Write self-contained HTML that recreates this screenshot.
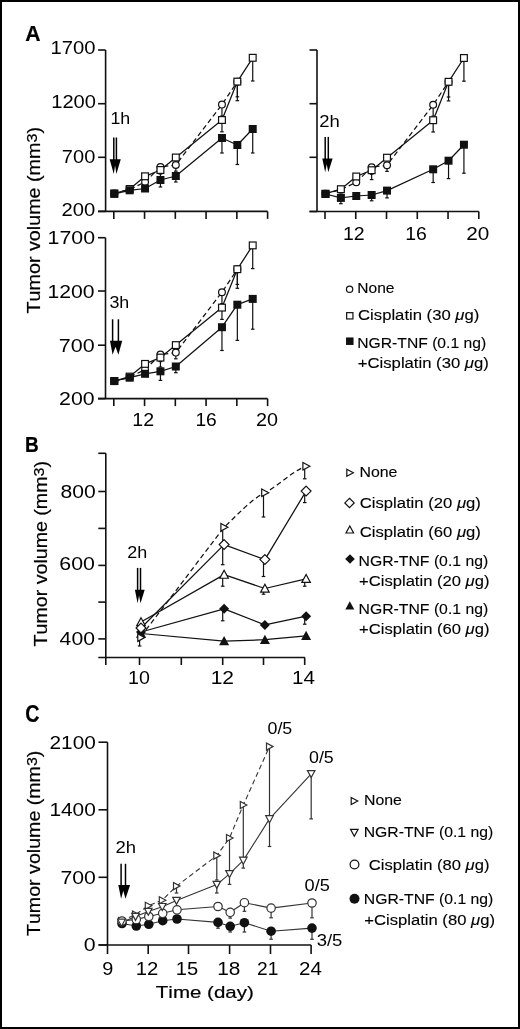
<!DOCTYPE html>
<html><head><meta charset="utf-8"><style>
html,body{margin:0;padding:0;background:#fff;}
svg{display:block;will-change:transform;}
text{font-family:"Liberation Sans", sans-serif;fill:#000;font-kerning:none;}
.sk{stroke:#000;stroke-width:0.12px;}
.sk2{stroke:#000;stroke-width:0.2px;}
</style></head><body>
<svg width="520" height="1029" viewBox="0 0 520 1029">
<rect width="520" height="1029" fill="#fff"/>
<rect x="1" y="1" width="518" height="1027" fill="none" stroke="#000" stroke-width="2"/>
<text class="sk2" x="25.27" y="40.80" font-size="22.00" font-weight="bold" textLength="15.29" lengthAdjust="spacingAndGlyphs">A</text>
<line x1="105.6" y1="50" x2="105.6" y2="211.4" stroke="#111" stroke-width="1.6" fill="none" stroke-linecap="butt"/>
<line x1="98.1" y1="211.4" x2="267.6" y2="211.4" stroke="#111" stroke-width="1.6" fill="none" stroke-linecap="butt"/>
<line x1="98.1" y1="50" x2="105.6" y2="50" stroke="#111" stroke-width="1.6" fill="none" stroke-linecap="butt"/>
<line x1="98.1" y1="103.7" x2="105.6" y2="103.7" stroke="#111" stroke-width="1.6" fill="none" stroke-linecap="butt"/>
<line x1="98.1" y1="157.3" x2="105.6" y2="157.3" stroke="#111" stroke-width="1.6" fill="none" stroke-linecap="butt"/>
<line x1="98.1" y1="211.4" x2="105.6" y2="211.4" stroke="#111" stroke-width="1.6" fill="none" stroke-linecap="butt"/>
<line x1="113.8" y1="211.4" x2="113.8" y2="218.9" stroke="#111" stroke-width="1.6" fill="none" stroke-linecap="butt"/>
<line x1="144.56" y1="211.4" x2="144.56" y2="218.9" stroke="#111" stroke-width="1.6" fill="none" stroke-linecap="butt"/>
<line x1="175.32" y1="211.4" x2="175.32" y2="218.9" stroke="#111" stroke-width="1.6" fill="none" stroke-linecap="butt"/>
<line x1="206.07999999999998" y1="211.4" x2="206.07999999999998" y2="218.9" stroke="#111" stroke-width="1.6" fill="none" stroke-linecap="butt"/>
<line x1="236.84" y1="211.4" x2="236.84" y2="218.9" stroke="#111" stroke-width="1.6" fill="none" stroke-linecap="butt"/>
<line x1="267.6" y1="211.4" x2="267.6" y2="218.9" stroke="#111" stroke-width="1.6" fill="none" stroke-linecap="butt"/>
<line x1="317" y1="50" x2="317" y2="211.5" stroke="#111" stroke-width="1.6" fill="none" stroke-linecap="butt"/>
<line x1="309.5" y1="211.5" x2="478.8" y2="211.5" stroke="#111" stroke-width="1.6" fill="none" stroke-linecap="butt"/>
<line x1="309.5" y1="50" x2="317" y2="50" stroke="#111" stroke-width="1.6" fill="none" stroke-linecap="butt"/>
<line x1="309.5" y1="103.7" x2="317" y2="103.7" stroke="#111" stroke-width="1.6" fill="none" stroke-linecap="butt"/>
<line x1="309.5" y1="157.3" x2="317" y2="157.3" stroke="#111" stroke-width="1.6" fill="none" stroke-linecap="butt"/>
<line x1="309.5" y1="211.5" x2="317" y2="211.5" stroke="#111" stroke-width="1.6" fill="none" stroke-linecap="butt"/>
<line x1="325.0" y1="211.5" x2="325.0" y2="219.0" stroke="#111" stroke-width="1.6" fill="none" stroke-linecap="butt"/>
<line x1="355.76" y1="211.5" x2="355.76" y2="219.0" stroke="#111" stroke-width="1.6" fill="none" stroke-linecap="butt"/>
<line x1="386.52" y1="211.5" x2="386.52" y2="219.0" stroke="#111" stroke-width="1.6" fill="none" stroke-linecap="butt"/>
<line x1="417.28" y1="211.5" x2="417.28" y2="219.0" stroke="#111" stroke-width="1.6" fill="none" stroke-linecap="butt"/>
<line x1="448.04" y1="211.5" x2="448.04" y2="219.0" stroke="#111" stroke-width="1.6" fill="none" stroke-linecap="butt"/>
<line x1="478.8" y1="211.5" x2="478.8" y2="219.0" stroke="#111" stroke-width="1.6" fill="none" stroke-linecap="butt"/>
<line x1="105.5" y1="237.7" x2="105.5" y2="398.6" stroke="#111" stroke-width="1.6" fill="none" stroke-linecap="butt"/>
<line x1="98.0" y1="398.6" x2="267.6" y2="398.6" stroke="#111" stroke-width="1.6" fill="none" stroke-linecap="butt"/>
<line x1="98.0" y1="237.7" x2="105.5" y2="237.7" stroke="#111" stroke-width="1.6" fill="none" stroke-linecap="butt"/>
<line x1="98.0" y1="291.0" x2="105.5" y2="291.0" stroke="#111" stroke-width="1.6" fill="none" stroke-linecap="butt"/>
<line x1="98.0" y1="345.2" x2="105.5" y2="345.2" stroke="#111" stroke-width="1.6" fill="none" stroke-linecap="butt"/>
<line x1="98.0" y1="398.6" x2="105.5" y2="398.6" stroke="#111" stroke-width="1.6" fill="none" stroke-linecap="butt"/>
<line x1="113.8" y1="398.6" x2="113.8" y2="406.1" stroke="#111" stroke-width="1.6" fill="none" stroke-linecap="butt"/>
<line x1="144.56" y1="398.6" x2="144.56" y2="406.1" stroke="#111" stroke-width="1.6" fill="none" stroke-linecap="butt"/>
<line x1="175.32" y1="398.6" x2="175.32" y2="406.1" stroke="#111" stroke-width="1.6" fill="none" stroke-linecap="butt"/>
<line x1="206.07999999999998" y1="398.6" x2="206.07999999999998" y2="406.1" stroke="#111" stroke-width="1.6" fill="none" stroke-linecap="butt"/>
<line x1="236.84" y1="398.6" x2="236.84" y2="406.1" stroke="#111" stroke-width="1.6" fill="none" stroke-linecap="butt"/>
<line x1="267.6" y1="398.6" x2="267.6" y2="406.1" stroke="#111" stroke-width="1.6" fill="none" stroke-linecap="butt"/>
<text x="50.56" y="54.10" font-size="17.60" textLength="45.03" lengthAdjust="spacingAndGlyphs">1700</text>
<text x="51.27" y="107.50" font-size="17.60" textLength="44.72" lengthAdjust="spacingAndGlyphs">1200</text>
<text x="61.87" y="163.10" font-size="17.60" textLength="33.41" lengthAdjust="spacingAndGlyphs">700</text>
<text x="61.58" y="216.20" font-size="17.60" textLength="33.71" lengthAdjust="spacingAndGlyphs">200</text>
<text x="47.58" y="244.00" font-size="17.60" textLength="47.46" lengthAdjust="spacingAndGlyphs">1700</text>
<text x="47.59" y="297.70" font-size="17.60" textLength="47.04" lengthAdjust="spacingAndGlyphs">1200</text>
<text x="58.80" y="351.50" font-size="17.60" textLength="35.84" lengthAdjust="spacingAndGlyphs">700</text>
<text x="59.13" y="404.70" font-size="17.60" textLength="35.50" lengthAdjust="spacingAndGlyphs">200</text>
<text x="342.92" y="239.80" font-size="17.60" textLength="21.66" lengthAdjust="spacingAndGlyphs">12</text>
<text x="405.22" y="239.80" font-size="17.60" textLength="21.64" lengthAdjust="spacingAndGlyphs">16</text>
<text x="466.26" y="239.80" font-size="17.60" textLength="23.05" lengthAdjust="spacingAndGlyphs">20</text>
<text x="132.31" y="425.80" font-size="17.60" textLength="21.78" lengthAdjust="spacingAndGlyphs">12</text>
<text x="195.43" y="425.80" font-size="17.60" textLength="21.41" lengthAdjust="spacingAndGlyphs">16</text>
<text x="255.91" y="425.80" font-size="17.60" textLength="21.96" lengthAdjust="spacingAndGlyphs">20</text>
<text x="110.44" y="124.20" font-size="16.00" textLength="19.81" lengthAdjust="spacingAndGlyphs">1h</text>
<text x="319.17" y="127.20" font-size="16.00" textLength="20.53" lengthAdjust="spacingAndGlyphs">2h</text>
<text x="109.42" y="307.60" font-size="16.00" textLength="19.84" lengthAdjust="spacingAndGlyphs">3h</text>
<g transform="translate(39.80,313.00) rotate(-90)"><text class="sk2" x="-0.44" y="0" font-size="18.20" textLength="186.47" lengthAdjust="spacingAndGlyphs">Tumor volume (mm<tspan font-size="14.92" dy="-3.09">3</tspan><tspan dy="3.09">)</tspan></text></g>
<text class="sk" x="357.32" y="292.50" font-size="15.40" textLength="37.17" lengthAdjust="spacingAndGlyphs">None</text>
<text class="sk" x="358.05" y="319.80" font-size="15.40" textLength="121.28" lengthAdjust="spacingAndGlyphs">Cisplatin (30 <tspan font-style="italic">μ</tspan>g)</text>
<text class="sk" x="357.31" y="347.70" font-size="15.40" textLength="128.86" lengthAdjust="spacingAndGlyphs">NGR-TNF (0.1 ng)</text>
<text class="sk" x="357.79" y="367.60" font-size="15.40" textLength="131.05" lengthAdjust="spacingAndGlyphs">+Cisplatin (30 <tspan font-style="italic">μ</tspan>g)</text>
<text class="sk2" x="24.93" y="451.60" font-size="21.60" font-weight="bold" textLength="13.74" lengthAdjust="spacingAndGlyphs">B</text>
<line x1="105.8" y1="453.3" x2="105.8" y2="657.5" stroke="#111" stroke-width="1.6" fill="none" stroke-linecap="butt"/>
<line x1="98.3" y1="657.5" x2="304.9" y2="657.5" stroke="#111" stroke-width="1.6" fill="none" stroke-linecap="butt"/>
<line x1="98.3" y1="453.3" x2="105.8" y2="453.3" stroke="#111" stroke-width="1.6" fill="none" stroke-linecap="butt"/>
<line x1="98.3" y1="491.5" x2="105.8" y2="491.5" stroke="#111" stroke-width="1.6" fill="none" stroke-linecap="butt"/>
<line x1="98.3" y1="528.4" x2="105.8" y2="528.4" stroke="#111" stroke-width="1.6" fill="none" stroke-linecap="butt"/>
<line x1="98.3" y1="565.4" x2="105.8" y2="565.4" stroke="#111" stroke-width="1.6" fill="none" stroke-linecap="butt"/>
<line x1="98.3" y1="602.1" x2="105.8" y2="602.1" stroke="#111" stroke-width="1.6" fill="none" stroke-linecap="butt"/>
<line x1="98.3" y1="638.9" x2="105.8" y2="638.9" stroke="#111" stroke-width="1.6" fill="none" stroke-linecap="butt"/>
<line x1="105.8" y1="657.5" x2="105.8" y2="665.0" stroke="#111" stroke-width="1.6" fill="none" stroke-linecap="butt"/>
<line x1="139.5" y1="657.5" x2="139.5" y2="665.0" stroke="#111" stroke-width="1.6" fill="none" stroke-linecap="butt"/>
<line x1="181.3" y1="657.5" x2="181.3" y2="665.0" stroke="#111" stroke-width="1.6" fill="none" stroke-linecap="butt"/>
<line x1="222.7" y1="657.5" x2="222.7" y2="665.0" stroke="#111" stroke-width="1.6" fill="none" stroke-linecap="butt"/>
<line x1="263.5" y1="657.5" x2="263.5" y2="665.0" stroke="#111" stroke-width="1.6" fill="none" stroke-linecap="butt"/>
<line x1="304.7" y1="657.5" x2="304.7" y2="665.0" stroke="#111" stroke-width="1.6" fill="none" stroke-linecap="butt"/>
<text x="60.58" y="498.00" font-size="17.60" textLength="35.24" lengthAdjust="spacingAndGlyphs">800</text>
<text x="59.32" y="570.00" font-size="17.60" textLength="35.62" lengthAdjust="spacingAndGlyphs">600</text>
<text x="59.61" y="645.00" font-size="17.60" textLength="35.31" lengthAdjust="spacingAndGlyphs">400</text>
<text x="128.10" y="684.00" font-size="17.60" textLength="21.87" lengthAdjust="spacingAndGlyphs">10</text>
<text x="210.70" y="684.00" font-size="17.60" textLength="23.36" lengthAdjust="spacingAndGlyphs">12</text>
<text x="292.03" y="684.00" font-size="17.60" textLength="22.98" lengthAdjust="spacingAndGlyphs">14</text>
<text x="127.20" y="557.80" font-size="16.00" textLength="19.97" lengthAdjust="spacingAndGlyphs">2h</text>
<g transform="translate(47.10,646.00) rotate(-90)"><text class="sk2" x="-0.44" y="0" font-size="18.20" textLength="185.46" lengthAdjust="spacingAndGlyphs">Tumor volume (mm<tspan font-size="14.92" dy="-3.09">3</tspan><tspan dy="3.09">)</tspan></text></g>
<text class="sk" x="359.50" y="476.80" font-size="15.40" textLength="37.91" lengthAdjust="spacingAndGlyphs">None</text>
<text class="sk" x="359.65" y="507.80" font-size="15.40" textLength="121.28" lengthAdjust="spacingAndGlyphs">Cisplatin (20 <tspan font-style="italic">μ</tspan>g)</text>
<text class="sk" x="359.65" y="536.60" font-size="15.40" textLength="121.28" lengthAdjust="spacingAndGlyphs">Cisplatin (60 <tspan font-style="italic">μ</tspan>g)</text>
<text class="sk" x="358.61" y="566.30" font-size="15.40" textLength="129.57" lengthAdjust="spacingAndGlyphs">NGR-TNF (0.1 ng)</text>
<text class="sk" x="359.09" y="586.00" font-size="15.40" textLength="130.34" lengthAdjust="spacingAndGlyphs">+Cisplatin (20 <tspan font-style="italic">μ</tspan>g)</text>
<text class="sk" x="358.61" y="613.50" font-size="15.40" textLength="129.57" lengthAdjust="spacingAndGlyphs">NGR-TNF (0.1 ng)</text>
<text class="sk" x="359.09" y="633.70" font-size="15.40" textLength="130.34" lengthAdjust="spacingAndGlyphs">+Cisplatin (60 <tspan font-style="italic">μ</tspan>g)</text>
<text class="sk2" x="25.19" y="722.00" font-size="23.00" font-weight="bold" textLength="14.25" lengthAdjust="spacingAndGlyphs">C</text>
<line x1="107.5" y1="742.2" x2="107.5" y2="945.0" stroke="#111" stroke-width="1.6" fill="none" stroke-linecap="butt"/>
<line x1="98.5" y1="945.0" x2="311.1" y2="945.0" stroke="#111" stroke-width="1.6" fill="none" stroke-linecap="butt"/>
<line x1="98.5" y1="742.2" x2="107.5" y2="742.2" stroke="#111" stroke-width="1.6" fill="none" stroke-linecap="butt"/>
<line x1="98.5" y1="809.8" x2="107.5" y2="809.8" stroke="#111" stroke-width="1.6" fill="none" stroke-linecap="butt"/>
<line x1="98.5" y1="877.3" x2="107.5" y2="877.3" stroke="#111" stroke-width="1.6" fill="none" stroke-linecap="butt"/>
<line x1="98.5" y1="945.0" x2="107.5" y2="945.0" stroke="#111" stroke-width="1.6" fill="none" stroke-linecap="butt"/>
<line x1="107.5" y1="945.0" x2="107.5" y2="954.0" stroke="#111" stroke-width="1.6" fill="none" stroke-linecap="butt"/>
<line x1="148.2" y1="945.0" x2="148.2" y2="954.0" stroke="#111" stroke-width="1.6" fill="none" stroke-linecap="butt"/>
<line x1="188.5" y1="945.0" x2="188.5" y2="954.0" stroke="#111" stroke-width="1.6" fill="none" stroke-linecap="butt"/>
<line x1="229.6" y1="945.0" x2="229.6" y2="954.0" stroke="#111" stroke-width="1.6" fill="none" stroke-linecap="butt"/>
<line x1="270.5" y1="945.0" x2="270.5" y2="954.0" stroke="#111" stroke-width="1.6" fill="none" stroke-linecap="butt"/>
<line x1="311.1" y1="945.0" x2="311.1" y2="954.0" stroke="#111" stroke-width="1.6" fill="none" stroke-linecap="butt"/>
<text x="49.55" y="749.20" font-size="17.60" textLength="46.26" lengthAdjust="spacingAndGlyphs">2100</text>
<text x="49.41" y="816.20" font-size="17.60" textLength="46.40" lengthAdjust="spacingAndGlyphs">1400</text>
<text x="60.41" y="884.20" font-size="17.60" textLength="35.42" lengthAdjust="spacingAndGlyphs">700</text>
<text x="83.77" y="951.30" font-size="17.60" textLength="11.87" lengthAdjust="spacingAndGlyphs">0</text>
<text x="102.17" y="974.50" font-size="17.60" textLength="11.08" lengthAdjust="spacingAndGlyphs">9</text>
<text x="135.85" y="974.50" font-size="17.60" textLength="22.57" lengthAdjust="spacingAndGlyphs">12</text>
<text x="175.87" y="974.50" font-size="17.60" textLength="22.38" lengthAdjust="spacingAndGlyphs">15</text>
<text x="217.21" y="974.50" font-size="17.60" textLength="23.19" lengthAdjust="spacingAndGlyphs">18</text>
<text x="257.04" y="974.50" font-size="17.60" textLength="21.30" lengthAdjust="spacingAndGlyphs">21</text>
<text x="298.97" y="974.50" font-size="17.60" textLength="22.83" lengthAdjust="spacingAndGlyphs">24</text>
<text class="sk2" x="155.84" y="998.40" font-size="17.00" textLength="97.93" lengthAdjust="spacingAndGlyphs">Time (day)</text>
<text x="115.47" y="853.10" font-size="16.00" textLength="20.53" lengthAdjust="spacingAndGlyphs">2h</text>
<g transform="translate(40.10,935.60) rotate(-90)"><text class="sk2" x="-0.44" y="0" font-size="18.20" textLength="185.46" lengthAdjust="spacingAndGlyphs">Tumor volume (mm<tspan font-size="14.92" dy="-3.09">3</tspan><tspan dy="3.09">)</tspan></text></g>
<text x="267.50" y="734.00" font-size="16.00" textLength="24.74" lengthAdjust="spacingAndGlyphs">0/5</text>
<text x="309.00" y="763.40" font-size="16.00" textLength="24.74" lengthAdjust="spacingAndGlyphs">0/5</text>
<text x="304.59" y="891.30" font-size="16.00" textLength="25.27" lengthAdjust="spacingAndGlyphs">0/5</text>
<text x="316.70" y="946.00" font-size="16.00" textLength="25.68" lengthAdjust="spacingAndGlyphs">3/5</text>
<text class="sk" x="364.00" y="804.70" font-size="15.40" textLength="37.91" lengthAdjust="spacingAndGlyphs">None</text>
<text class="sk" x="363.71" y="837.10" font-size="15.40" textLength="129.57" lengthAdjust="spacingAndGlyphs">NGR-TNF (0.1 ng)</text>
<text class="sk" x="368.76" y="870.10" font-size="15.40" textLength="120.67" lengthAdjust="spacingAndGlyphs">Cisplatin (80 <tspan font-style="italic">μ</tspan>g)</text>
<text class="sk" x="363.81" y="904.10" font-size="15.40" textLength="129.47" lengthAdjust="spacingAndGlyphs">NGR-TNF (0.1 ng)</text>
<text class="sk" x="364.29" y="924.80" font-size="15.40" textLength="130.64" lengthAdjust="spacingAndGlyphs">+Cisplatin (80 <tspan font-style="italic">μ</tspan>g)</text>
<polyline points="114.30,193.50 129.68,189.50 145.06,182.00 160.44,167.00 175.82,165.00 221.96,104.60 237.34,81.70" fill="none" stroke="#111" stroke-width="1.25" stroke-dasharray="5,3.2" stroke-linejoin="round"/>
<polyline points="114.30,193.50 129.68,189.00 145.06,176.30 160.44,170.00 175.82,157.50 221.96,120.00 237.34,81.60 252.72,57.80" fill="none" stroke="#111" stroke-width="1.25" stroke-linejoin="round"/>
<polyline points="114.30,193.80 129.68,190.30 145.06,188.50 160.44,180.00 175.82,176.00 221.96,138.00 237.34,145.00 252.72,129.00" fill="none" stroke="#111" stroke-width="1.25" stroke-linejoin="round"/>
<polyline points="325.50,193.70 340.88,189.70 356.26,182.20 371.64,167.20 387.02,165.20 433.16,104.80 448.54,81.90" fill="none" stroke="#111" stroke-width="1.25" stroke-dasharray="5,3.2" stroke-linejoin="round"/>
<polyline points="325.50,193.70 340.88,189.20 356.26,176.50 371.64,170.20 387.02,157.70 433.16,120.20 448.54,81.80 463.92,58.00" fill="none" stroke="#111" stroke-width="1.25" stroke-linejoin="round"/>
<polyline points="325.50,194.00 340.88,197.90 356.26,196.00 371.64,195.00 387.02,190.60 433.16,169.30 448.54,160.70 463.92,144.70" fill="none" stroke="#111" stroke-width="1.25" stroke-linejoin="round"/>
<polyline points="114.30,381.10 129.68,377.10 145.06,369.60 160.44,354.60 175.82,352.60 221.96,292.20 237.34,269.30" fill="none" stroke="#111" stroke-width="1.25" stroke-dasharray="5,3.2" stroke-linejoin="round"/>
<polyline points="114.30,381.10 129.68,376.60 145.06,363.90 160.44,357.60 175.82,345.10 221.96,307.60 237.34,269.20 252.72,245.40" fill="none" stroke="#111" stroke-width="1.25" stroke-linejoin="round"/>
<polyline points="114.30,381.00 129.68,377.70 145.06,373.80 160.44,371.30 175.82,366.50 221.96,327.20 237.34,304.70 252.72,298.90" fill="none" stroke="#111" stroke-width="1.25" stroke-linejoin="round"/>
<polyline points="141.00,632.00 224.10,608.80 264.90,624.90 306.10,616.20" fill="none" stroke="#111" stroke-width="1.25" stroke-linejoin="round"/>
<polyline points="141.00,633.50 224.10,641.10 264.90,639.70 306.10,635.80" fill="none" stroke="#111" stroke-width="1.25" stroke-linejoin="round"/>
<polyline points="141.00,622.00 224.10,574.60 264.90,588.50 306.10,578.80" fill="none" stroke="#111" stroke-width="1.25" stroke-linejoin="round"/>
<polyline points="141.00,628.00 224.10,544.60 264.90,559.60 306.10,491.10" fill="none" stroke="#111" stroke-width="1.25" stroke-linejoin="round"/>
<path d="M141.0,636.5 L224.1,527.3 C238.1,514.3 250.89999999999998,499.7 264.9,492.7 S292.09999999999997,471.2 306.09999999999997,466.2" fill="none" stroke="#111" stroke-width="1.25" stroke-dasharray="5,3.2"/>
<polyline points="121.50,921.00 135.50,914.50 148.30,905.80 162.30,900.20 176.50,886.10 216.80,855.60 229.50,838.00 243.30,805.00 269.50,746.60" fill="none" stroke="#333" stroke-width="1.1" stroke-dasharray="5,3.2" stroke-linejoin="round"/>
<polyline points="122.00,923.50 136.30,926.00 148.80,924.30 162.70,920.70 177.00,919.00 218.00,922.40 230.20,926.30 244.40,922.70 271.10,931.20 312.00,928.10" fill="none" stroke="#333" stroke-width="1.1" stroke-linejoin="round"/>
<polyline points="122.00,921.00 136.30,919.40 148.80,916.50 162.70,913.30 177.00,909.80 218.00,906.50 230.20,912.30 244.40,902.70 271.10,908.10 312.00,903.00" fill="none" stroke="#333" stroke-width="1.1" stroke-linejoin="round"/>
<polyline points="121.50,922.40 135.50,916.60 148.30,911.50 162.30,906.70 176.50,900.60 216.80,884.60 229.50,873.80 243.30,860.40 269.50,818.90 311.20,773.80" fill="none" stroke="#333" stroke-width="1.1" stroke-linejoin="round"/>
<line x1="160.44" y1="167.00" x2="160.44" y2="174.00" stroke="#111" stroke-width="1.2"/><line x1="158.64" y1="174.00" x2="162.24" y2="174.00" stroke="#111" stroke-width="1.2"/>
<line x1="175.82" y1="165.00" x2="175.82" y2="171.20" stroke="#111" stroke-width="1.2"/><line x1="174.02" y1="171.20" x2="177.62" y2="171.20" stroke="#111" stroke-width="1.2"/>
<line x1="221.96" y1="104.60" x2="221.96" y2="116.00" stroke="#111" stroke-width="1.2"/><line x1="220.16" y1="116.00" x2="223.76" y2="116.00" stroke="#111" stroke-width="1.2"/>
<line x1="237.34" y1="81.70" x2="237.34" y2="96.80" stroke="#111" stroke-width="1.2"/><line x1="235.54" y1="96.80" x2="239.14" y2="96.80" stroke="#111" stroke-width="1.2"/>
<line x1="160.44" y1="170.00" x2="160.44" y2="179.40" stroke="#111" stroke-width="1.2"/><line x1="158.64" y1="179.40" x2="162.24" y2="179.40" stroke="#111" stroke-width="1.2"/>
<line x1="221.96" y1="120.00" x2="221.96" y2="131.80" stroke="#111" stroke-width="1.2"/><line x1="220.16" y1="131.80" x2="223.76" y2="131.80" stroke="#111" stroke-width="1.2"/>
<line x1="237.34" y1="81.60" x2="237.34" y2="100.70" stroke="#111" stroke-width="1.2"/><line x1="235.54" y1="100.70" x2="239.14" y2="100.70" stroke="#111" stroke-width="1.2"/>
<line x1="252.72" y1="57.80" x2="252.72" y2="81.00" stroke="#111" stroke-width="1.2"/><line x1="250.92" y1="81.00" x2="254.52" y2="81.00" stroke="#111" stroke-width="1.2"/>
<line x1="160.44" y1="180.00" x2="160.44" y2="187.00" stroke="#111" stroke-width="1.2"/><line x1="158.64" y1="187.00" x2="162.24" y2="187.00" stroke="#111" stroke-width="1.2"/>
<line x1="175.82" y1="176.00" x2="175.82" y2="182.00" stroke="#111" stroke-width="1.2"/><line x1="174.02" y1="182.00" x2="177.62" y2="182.00" stroke="#111" stroke-width="1.2"/>
<line x1="221.96" y1="138.00" x2="221.96" y2="153.00" stroke="#111" stroke-width="1.2"/><line x1="220.16" y1="153.00" x2="223.76" y2="153.00" stroke="#111" stroke-width="1.2"/>
<line x1="237.34" y1="145.00" x2="237.34" y2="164.50" stroke="#111" stroke-width="1.2"/><line x1="235.54" y1="164.50" x2="239.14" y2="164.50" stroke="#111" stroke-width="1.2"/>
<line x1="252.72" y1="129.00" x2="252.72" y2="153.00" stroke="#111" stroke-width="1.2"/><line x1="250.92" y1="153.00" x2="254.52" y2="153.00" stroke="#111" stroke-width="1.2"/>
<line x1="371.64" y1="167.20" x2="371.64" y2="174.20" stroke="#111" stroke-width="1.2"/><line x1="369.84" y1="174.20" x2="373.44" y2="174.20" stroke="#111" stroke-width="1.2"/>
<line x1="387.02" y1="165.20" x2="387.02" y2="171.40" stroke="#111" stroke-width="1.2"/><line x1="385.22" y1="171.40" x2="388.82" y2="171.40" stroke="#111" stroke-width="1.2"/>
<line x1="433.16" y1="104.80" x2="433.16" y2="116.20" stroke="#111" stroke-width="1.2"/><line x1="431.36" y1="116.20" x2="434.96" y2="116.20" stroke="#111" stroke-width="1.2"/>
<line x1="448.54" y1="81.90" x2="448.54" y2="97.00" stroke="#111" stroke-width="1.2"/><line x1="446.74" y1="97.00" x2="450.34" y2="97.00" stroke="#111" stroke-width="1.2"/>
<line x1="371.64" y1="170.20" x2="371.64" y2="179.60" stroke="#111" stroke-width="1.2"/><line x1="369.84" y1="179.60" x2="373.44" y2="179.60" stroke="#111" stroke-width="1.2"/>
<line x1="433.16" y1="120.20" x2="433.16" y2="132.00" stroke="#111" stroke-width="1.2"/><line x1="431.36" y1="132.00" x2="434.96" y2="132.00" stroke="#111" stroke-width="1.2"/>
<line x1="448.54" y1="81.80" x2="448.54" y2="100.90" stroke="#111" stroke-width="1.2"/><line x1="446.74" y1="100.90" x2="450.34" y2="100.90" stroke="#111" stroke-width="1.2"/>
<line x1="463.92" y1="58.00" x2="463.92" y2="81.20" stroke="#111" stroke-width="1.2"/><line x1="462.12" y1="81.20" x2="465.72" y2="81.20" stroke="#111" stroke-width="1.2"/>
<line x1="340.88" y1="197.90" x2="340.88" y2="203.70" stroke="#111" stroke-width="1.2"/><line x1="339.08" y1="203.70" x2="342.68" y2="203.70" stroke="#111" stroke-width="1.2"/>
<line x1="371.64" y1="195.00" x2="371.64" y2="200.80" stroke="#111" stroke-width="1.2"/><line x1="369.84" y1="200.80" x2="373.44" y2="200.80" stroke="#111" stroke-width="1.2"/>
<line x1="387.02" y1="190.60" x2="387.02" y2="197.90" stroke="#111" stroke-width="1.2"/><line x1="385.22" y1="197.90" x2="388.82" y2="197.90" stroke="#111" stroke-width="1.2"/>
<line x1="433.16" y1="169.30" x2="433.16" y2="182.50" stroke="#111" stroke-width="1.2"/><line x1="431.36" y1="182.50" x2="434.96" y2="182.50" stroke="#111" stroke-width="1.2"/>
<line x1="448.54" y1="160.70" x2="448.54" y2="178.60" stroke="#111" stroke-width="1.2"/><line x1="446.74" y1="178.60" x2="450.34" y2="178.60" stroke="#111" stroke-width="1.2"/>
<line x1="463.92" y1="144.70" x2="463.92" y2="173.20" stroke="#111" stroke-width="1.2"/><line x1="462.12" y1="173.20" x2="465.72" y2="173.20" stroke="#111" stroke-width="1.2"/>
<line x1="160.44" y1="354.60" x2="160.44" y2="361.60" stroke="#111" stroke-width="1.2"/><line x1="158.64" y1="361.60" x2="162.24" y2="361.60" stroke="#111" stroke-width="1.2"/>
<line x1="175.82" y1="352.60" x2="175.82" y2="358.80" stroke="#111" stroke-width="1.2"/><line x1="174.02" y1="358.80" x2="177.62" y2="358.80" stroke="#111" stroke-width="1.2"/>
<line x1="221.96" y1="292.20" x2="221.96" y2="303.60" stroke="#111" stroke-width="1.2"/><line x1="220.16" y1="303.60" x2="223.76" y2="303.60" stroke="#111" stroke-width="1.2"/>
<line x1="237.34" y1="269.30" x2="237.34" y2="284.40" stroke="#111" stroke-width="1.2"/><line x1="235.54" y1="284.40" x2="239.14" y2="284.40" stroke="#111" stroke-width="1.2"/>
<line x1="160.44" y1="357.60" x2="160.44" y2="367.00" stroke="#111" stroke-width="1.2"/><line x1="158.64" y1="367.00" x2="162.24" y2="367.00" stroke="#111" stroke-width="1.2"/>
<line x1="221.96" y1="307.60" x2="221.96" y2="319.40" stroke="#111" stroke-width="1.2"/><line x1="220.16" y1="319.40" x2="223.76" y2="319.40" stroke="#111" stroke-width="1.2"/>
<line x1="237.34" y1="269.20" x2="237.34" y2="288.30" stroke="#111" stroke-width="1.2"/><line x1="235.54" y1="288.30" x2="239.14" y2="288.30" stroke="#111" stroke-width="1.2"/>
<line x1="252.72" y1="245.40" x2="252.72" y2="268.60" stroke="#111" stroke-width="1.2"/><line x1="250.92" y1="268.60" x2="254.52" y2="268.60" stroke="#111" stroke-width="1.2"/>
<line x1="160.44" y1="371.30" x2="160.44" y2="380.40" stroke="#111" stroke-width="1.2"/><line x1="158.64" y1="380.40" x2="162.24" y2="380.40" stroke="#111" stroke-width="1.2"/>
<line x1="175.82" y1="366.50" x2="175.82" y2="372.70" stroke="#111" stroke-width="1.2"/><line x1="174.02" y1="372.70" x2="177.62" y2="372.70" stroke="#111" stroke-width="1.2"/>
<line x1="221.96" y1="327.20" x2="221.96" y2="350.50" stroke="#111" stroke-width="1.2"/><line x1="220.16" y1="350.50" x2="223.76" y2="350.50" stroke="#111" stroke-width="1.2"/>
<line x1="237.34" y1="304.70" x2="237.34" y2="340.40" stroke="#111" stroke-width="1.2"/><line x1="235.54" y1="340.40" x2="239.14" y2="340.40" stroke="#111" stroke-width="1.2"/>
<line x1="252.72" y1="298.90" x2="252.72" y2="329.20" stroke="#111" stroke-width="1.2"/><line x1="250.92" y1="329.20" x2="254.52" y2="329.20" stroke="#111" stroke-width="1.2"/>
<line x1="222.70" y1="608.80" x2="222.70" y2="620.80" stroke="#111" stroke-width="1.2"/><line x1="220.90" y1="620.80" x2="224.50" y2="620.80" stroke="#111" stroke-width="1.2"/>
<line x1="304.70" y1="616.20" x2="304.70" y2="624.20" stroke="#111" stroke-width="1.2"/><line x1="302.90" y1="624.20" x2="306.50" y2="624.20" stroke="#111" stroke-width="1.2"/>
<line x1="222.70" y1="574.60" x2="222.70" y2="586.20" stroke="#111" stroke-width="1.2"/><line x1="220.90" y1="586.20" x2="224.50" y2="586.20" stroke="#111" stroke-width="1.2"/>
<line x1="263.50" y1="588.50" x2="263.50" y2="594.20" stroke="#111" stroke-width="1.2"/><line x1="261.70" y1="594.20" x2="265.30" y2="594.20" stroke="#111" stroke-width="1.2"/>
<line x1="304.70" y1="578.80" x2="304.70" y2="586.20" stroke="#111" stroke-width="1.2"/><line x1="302.90" y1="586.20" x2="306.50" y2="586.20" stroke="#111" stroke-width="1.2"/>
<line x1="222.70" y1="544.60" x2="222.70" y2="564.70" stroke="#111" stroke-width="1.2"/><line x1="220.90" y1="564.70" x2="224.50" y2="564.70" stroke="#111" stroke-width="1.2"/>
<line x1="263.50" y1="559.60" x2="263.50" y2="576.50" stroke="#111" stroke-width="1.2"/><line x1="261.70" y1="576.50" x2="265.30" y2="576.50" stroke="#111" stroke-width="1.2"/>
<line x1="304.70" y1="491.10" x2="304.70" y2="502.60" stroke="#111" stroke-width="1.2"/><line x1="302.90" y1="502.60" x2="306.50" y2="502.60" stroke="#111" stroke-width="1.2"/>
<line x1="139.60" y1="637.60" x2="139.60" y2="646.00" stroke="#111" stroke-width="1.2"/><line x1="137.80" y1="646.00" x2="141.40" y2="646.00" stroke="#111" stroke-width="1.2"/>
<line x1="263.50" y1="492.70" x2="263.50" y2="517.00" stroke="#111" stroke-width="1.2"/><line x1="261.70" y1="517.00" x2="265.30" y2="517.00" stroke="#111" stroke-width="1.2"/>
<line x1="304.70" y1="466.20" x2="304.70" y2="478.80" stroke="#111" stroke-width="1.2"/><line x1="302.90" y1="478.80" x2="306.50" y2="478.80" stroke="#111" stroke-width="1.2"/>
<line x1="222.70" y1="527.30" x2="222.70" y2="545.00" stroke="#111" stroke-width="1.2"/><line x1="220.90" y1="545.00" x2="224.50" y2="545.00" stroke="#111" stroke-width="1.2"/>
<line x1="176.50" y1="886.10" x2="176.50" y2="893.00" stroke="#333" stroke-width="1.2"/><line x1="174.70" y1="893.00" x2="178.30" y2="893.00" stroke="#333" stroke-width="1.2"/>
<line x1="216.80" y1="855.60" x2="216.80" y2="880.00" stroke="#333" stroke-width="1.2"/><line x1="215.00" y1="880.00" x2="218.60" y2="880.00" stroke="#333" stroke-width="1.2"/>
<line x1="229.50" y1="838.00" x2="229.50" y2="871.00" stroke="#333" stroke-width="1.2"/><line x1="227.70" y1="871.00" x2="231.30" y2="871.00" stroke="#333" stroke-width="1.2"/>
<line x1="243.30" y1="805.00" x2="243.30" y2="858.00" stroke="#333" stroke-width="1.2"/><line x1="241.50" y1="858.00" x2="245.10" y2="858.00" stroke="#333" stroke-width="1.2"/>
<line x1="269.50" y1="746.60" x2="269.50" y2="818.00" stroke="#333" stroke-width="1.2"/><line x1="267.70" y1="818.00" x2="271.30" y2="818.00" stroke="#333" stroke-width="1.2"/>
<line x1="218.00" y1="922.40" x2="218.00" y2="928.20" stroke="#333" stroke-width="1.2"/><line x1="216.20" y1="928.20" x2="219.80" y2="928.20" stroke="#333" stroke-width="1.2"/>
<line x1="230.20" y1="926.30" x2="230.20" y2="932.00" stroke="#333" stroke-width="1.2"/><line x1="228.40" y1="932.00" x2="232.00" y2="932.00" stroke="#333" stroke-width="1.2"/>
<line x1="244.40" y1="922.70" x2="244.40" y2="932.00" stroke="#333" stroke-width="1.2"/><line x1="242.60" y1="932.00" x2="246.20" y2="932.00" stroke="#333" stroke-width="1.2"/>
<line x1="271.10" y1="931.20" x2="271.10" y2="939.20" stroke="#333" stroke-width="1.2"/><line x1="269.30" y1="939.20" x2="272.90" y2="939.20" stroke="#333" stroke-width="1.2"/>
<line x1="312.00" y1="928.10" x2="312.00" y2="939.30" stroke="#333" stroke-width="1.2"/><line x1="310.20" y1="939.30" x2="313.80" y2="939.30" stroke="#333" stroke-width="1.2"/>
<line x1="230.20" y1="912.30" x2="230.20" y2="918.10" stroke="#333" stroke-width="1.2"/><line x1="228.40" y1="918.10" x2="232.00" y2="918.10" stroke="#333" stroke-width="1.2"/>
<line x1="244.40" y1="902.70" x2="244.40" y2="911.30" stroke="#333" stroke-width="1.2"/><line x1="242.60" y1="911.30" x2="246.20" y2="911.30" stroke="#333" stroke-width="1.2"/>
<line x1="271.10" y1="908.10" x2="271.10" y2="917.80" stroke="#333" stroke-width="1.2"/><line x1="269.30" y1="917.80" x2="272.90" y2="917.80" stroke="#333" stroke-width="1.2"/>
<line x1="312.00" y1="903.00" x2="312.00" y2="917.80" stroke="#333" stroke-width="1.2"/><line x1="310.20" y1="917.80" x2="313.80" y2="917.80" stroke="#333" stroke-width="1.2"/>
<line x1="216.80" y1="884.60" x2="216.80" y2="893.00" stroke="#333" stroke-width="1.2"/><line x1="215.00" y1="893.00" x2="218.60" y2="893.00" stroke="#333" stroke-width="1.2"/>
<line x1="229.50" y1="873.80" x2="229.50" y2="884.40" stroke="#333" stroke-width="1.2"/><line x1="227.70" y1="884.40" x2="231.30" y2="884.40" stroke="#333" stroke-width="1.2"/>
<line x1="243.30" y1="860.40" x2="243.30" y2="868.10" stroke="#333" stroke-width="1.2"/><line x1="241.50" y1="868.10" x2="245.10" y2="868.10" stroke="#333" stroke-width="1.2"/>
<line x1="269.50" y1="818.90" x2="269.50" y2="846.50" stroke="#333" stroke-width="1.2"/><line x1="267.70" y1="846.50" x2="271.30" y2="846.50" stroke="#333" stroke-width="1.2"/>
<line x1="311.20" y1="773.80" x2="311.20" y2="818.90" stroke="#333" stroke-width="1.2"/><line x1="309.40" y1="818.90" x2="313.00" y2="818.90" stroke="#333" stroke-width="1.2"/>
<circle cx="114.30" cy="193.50" r="3.40" fill="#fff" stroke="#111" stroke-width="1.2"/>
<circle cx="129.68" cy="189.50" r="3.40" fill="#fff" stroke="#111" stroke-width="1.2"/>
<circle cx="145.06" cy="182.00" r="3.40" fill="#fff" stroke="#111" stroke-width="1.2"/>
<circle cx="160.44" cy="167.00" r="3.40" fill="#fff" stroke="#111" stroke-width="1.2"/>
<circle cx="175.82" cy="165.00" r="3.40" fill="#fff" stroke="#111" stroke-width="1.2"/>
<circle cx="221.96" cy="104.60" r="3.40" fill="#fff" stroke="#111" stroke-width="1.2"/>
<circle cx="237.34" cy="81.70" r="3.40" fill="#fff" stroke="#111" stroke-width="1.2"/>
<rect x="110.90" y="190.10" width="6.80" height="6.80" fill="#fff" stroke="#111" stroke-width="1.2"/>
<rect x="126.28" y="185.60" width="6.80" height="6.80" fill="#fff" stroke="#111" stroke-width="1.2"/>
<rect x="141.66" y="172.90" width="6.80" height="6.80" fill="#fff" stroke="#111" stroke-width="1.2"/>
<rect x="157.04" y="166.60" width="6.80" height="6.80" fill="#fff" stroke="#111" stroke-width="1.2"/>
<rect x="172.42" y="154.10" width="6.80" height="6.80" fill="#fff" stroke="#111" stroke-width="1.2"/>
<rect x="218.56" y="116.60" width="6.80" height="6.80" fill="#fff" stroke="#111" stroke-width="1.2"/>
<rect x="233.94" y="78.20" width="6.80" height="6.80" fill="#fff" stroke="#111" stroke-width="1.2"/>
<rect x="249.32" y="54.40" width="6.80" height="6.80" fill="#fff" stroke="#111" stroke-width="1.2"/>
<rect x="110.30" y="189.80" width="8.00" height="8.00" fill="#111"/>
<rect x="125.68" y="186.30" width="8.00" height="8.00" fill="#111"/>
<rect x="141.06" y="184.50" width="8.00" height="8.00" fill="#111"/>
<rect x="156.44" y="176.00" width="8.00" height="8.00" fill="#111"/>
<rect x="171.82" y="172.00" width="8.00" height="8.00" fill="#111"/>
<rect x="217.96" y="134.00" width="8.00" height="8.00" fill="#111"/>
<rect x="233.34" y="141.00" width="8.00" height="8.00" fill="#111"/>
<rect x="248.72" y="125.00" width="8.00" height="8.00" fill="#111"/>
<circle cx="325.50" cy="193.70" r="3.40" fill="#fff" stroke="#111" stroke-width="1.2"/>
<circle cx="340.88" cy="189.70" r="3.40" fill="#fff" stroke="#111" stroke-width="1.2"/>
<circle cx="356.26" cy="182.20" r="3.40" fill="#fff" stroke="#111" stroke-width="1.2"/>
<circle cx="371.64" cy="167.20" r="3.40" fill="#fff" stroke="#111" stroke-width="1.2"/>
<circle cx="387.02" cy="165.20" r="3.40" fill="#fff" stroke="#111" stroke-width="1.2"/>
<circle cx="433.16" cy="104.80" r="3.40" fill="#fff" stroke="#111" stroke-width="1.2"/>
<circle cx="448.54" cy="81.90" r="3.40" fill="#fff" stroke="#111" stroke-width="1.2"/>
<rect x="322.10" y="190.30" width="6.80" height="6.80" fill="#fff" stroke="#111" stroke-width="1.2"/>
<rect x="337.48" y="185.80" width="6.80" height="6.80" fill="#fff" stroke="#111" stroke-width="1.2"/>
<rect x="352.86" y="173.10" width="6.80" height="6.80" fill="#fff" stroke="#111" stroke-width="1.2"/>
<rect x="368.24" y="166.80" width="6.80" height="6.80" fill="#fff" stroke="#111" stroke-width="1.2"/>
<rect x="383.62" y="154.30" width="6.80" height="6.80" fill="#fff" stroke="#111" stroke-width="1.2"/>
<rect x="429.76" y="116.80" width="6.80" height="6.80" fill="#fff" stroke="#111" stroke-width="1.2"/>
<rect x="445.14" y="78.40" width="6.80" height="6.80" fill="#fff" stroke="#111" stroke-width="1.2"/>
<rect x="460.52" y="54.60" width="6.80" height="6.80" fill="#fff" stroke="#111" stroke-width="1.2"/>
<rect x="321.50" y="190.00" width="8.00" height="8.00" fill="#111"/>
<rect x="336.88" y="193.90" width="8.00" height="8.00" fill="#111"/>
<rect x="352.26" y="192.00" width="8.00" height="8.00" fill="#111"/>
<rect x="367.64" y="191.00" width="8.00" height="8.00" fill="#111"/>
<rect x="383.02" y="186.60" width="8.00" height="8.00" fill="#111"/>
<rect x="429.16" y="165.30" width="8.00" height="8.00" fill="#111"/>
<rect x="444.54" y="156.70" width="8.00" height="8.00" fill="#111"/>
<rect x="459.92" y="140.70" width="8.00" height="8.00" fill="#111"/>
<circle cx="114.30" cy="381.10" r="3.40" fill="#fff" stroke="#111" stroke-width="1.2"/>
<circle cx="129.68" cy="377.10" r="3.40" fill="#fff" stroke="#111" stroke-width="1.2"/>
<circle cx="145.06" cy="369.60" r="3.40" fill="#fff" stroke="#111" stroke-width="1.2"/>
<circle cx="160.44" cy="354.60" r="3.40" fill="#fff" stroke="#111" stroke-width="1.2"/>
<circle cx="175.82" cy="352.60" r="3.40" fill="#fff" stroke="#111" stroke-width="1.2"/>
<circle cx="221.96" cy="292.20" r="3.40" fill="#fff" stroke="#111" stroke-width="1.2"/>
<circle cx="237.34" cy="269.30" r="3.40" fill="#fff" stroke="#111" stroke-width="1.2"/>
<rect x="110.90" y="377.70" width="6.80" height="6.80" fill="#fff" stroke="#111" stroke-width="1.2"/>
<rect x="126.28" y="373.20" width="6.80" height="6.80" fill="#fff" stroke="#111" stroke-width="1.2"/>
<rect x="141.66" y="360.50" width="6.80" height="6.80" fill="#fff" stroke="#111" stroke-width="1.2"/>
<rect x="157.04" y="354.20" width="6.80" height="6.80" fill="#fff" stroke="#111" stroke-width="1.2"/>
<rect x="172.42" y="341.70" width="6.80" height="6.80" fill="#fff" stroke="#111" stroke-width="1.2"/>
<rect x="218.56" y="304.20" width="6.80" height="6.80" fill="#fff" stroke="#111" stroke-width="1.2"/>
<rect x="233.94" y="265.80" width="6.80" height="6.80" fill="#fff" stroke="#111" stroke-width="1.2"/>
<rect x="249.32" y="242.00" width="6.80" height="6.80" fill="#fff" stroke="#111" stroke-width="1.2"/>
<rect x="110.30" y="377.00" width="8.00" height="8.00" fill="#111"/>
<rect x="125.68" y="373.70" width="8.00" height="8.00" fill="#111"/>
<rect x="141.06" y="369.80" width="8.00" height="8.00" fill="#111"/>
<rect x="156.44" y="367.30" width="8.00" height="8.00" fill="#111"/>
<rect x="171.82" y="362.50" width="8.00" height="8.00" fill="#111"/>
<rect x="217.96" y="323.20" width="8.00" height="8.00" fill="#111"/>
<rect x="233.34" y="300.70" width="8.00" height="8.00" fill="#111"/>
<rect x="248.72" y="294.90" width="8.00" height="8.00" fill="#111"/>
<polygon points="141.00,627.00 146.00,632.00 141.00,637.00 136.00,632.00" fill="#111"/>
<polygon points="224.10,603.80 229.10,608.80 224.10,613.80 219.10,608.80" fill="#111"/>
<polygon points="264.90,619.90 269.90,624.90 264.90,629.90 259.90,624.90" fill="#111"/>
<polygon points="306.10,611.20 311.10,616.20 306.10,621.20 301.10,616.20" fill="#111"/>
<polygon points="141.00,628.50 146.00,637.75 136.00,637.75" fill="#111"/>
<polygon points="224.10,636.10 229.10,645.35 219.10,645.35" fill="#111"/>
<polygon points="264.90,634.70 269.90,643.95 259.90,643.95" fill="#111"/>
<polygon points="306.10,630.80 311.10,640.05 301.10,640.05" fill="#111"/>
<polygon points="141.00,617.72 145.28,625.64 136.72,625.64" fill="#fff" stroke="#111" stroke-width="1.2" stroke-linejoin="miter"/>
<polygon points="224.10,570.32 228.38,578.24 219.82,578.24" fill="#fff" stroke="#111" stroke-width="1.2" stroke-linejoin="miter"/>
<polygon points="264.90,584.22 269.18,592.14 260.62,592.14" fill="#fff" stroke="#111" stroke-width="1.2" stroke-linejoin="miter"/>
<polygon points="306.10,574.52 310.38,582.44 301.82,582.44" fill="#fff" stroke="#111" stroke-width="1.2" stroke-linejoin="miter"/>
<polygon points="141.00,623.09 145.91,628.00 141.00,632.91 136.09,628.00" fill="#fff" stroke="#111" stroke-width="1.2"/>
<polygon points="224.10,539.69 229.01,544.60 224.10,549.51 219.19,544.60" fill="#fff" stroke="#111" stroke-width="1.2"/>
<polygon points="264.90,554.69 269.81,559.60 264.90,564.51 259.99,559.60" fill="#fff" stroke="#111" stroke-width="1.2"/>
<polygon points="306.10,486.19 311.01,491.10 306.10,496.01 301.19,491.10" fill="#fff" stroke="#111" stroke-width="1.2"/>
<polygon points="137.79,633.82 144.78,637.60 137.79,641.38" fill="#fff" stroke="#111" stroke-width="1.2"/>
<polygon points="220.89,523.52 227.88,527.30 220.89,531.08" fill="#fff" stroke="#111" stroke-width="1.2"/>
<polygon points="261.69,488.92 268.68,492.70 261.69,496.48" fill="#fff" stroke="#111" stroke-width="1.2"/>
<polygon points="302.89,462.42 309.88,466.20 302.89,469.98" fill="#fff" stroke="#111" stroke-width="1.2"/>
<polygon points="118.50,917.47 125.03,921.00 118.50,924.53" fill="#fff" stroke="#333" stroke-width="1.2"/>
<polygon points="132.50,910.97 139.03,914.50 132.50,918.03" fill="#fff" stroke="#333" stroke-width="1.2"/>
<polygon points="145.30,902.27 151.83,905.80 145.30,909.33" fill="#fff" stroke="#333" stroke-width="1.2"/>
<polygon points="159.30,896.67 165.83,900.20 159.30,903.73" fill="#fff" stroke="#333" stroke-width="1.2"/>
<polygon points="173.50,882.57 180.03,886.10 173.50,889.63" fill="#fff" stroke="#333" stroke-width="1.2"/>
<polygon points="213.80,852.07 220.33,855.60 213.80,859.13" fill="#fff" stroke="#333" stroke-width="1.2"/>
<polygon points="226.50,834.47 233.03,838.00 226.50,841.53" fill="#fff" stroke="#333" stroke-width="1.2"/>
<polygon points="240.30,801.47 246.83,805.00 240.30,808.53" fill="#fff" stroke="#333" stroke-width="1.2"/>
<polygon points="266.50,743.07 273.03,746.60 266.50,750.13" fill="#fff" stroke="#333" stroke-width="1.2"/>
<circle cx="122.00" cy="923.50" r="4.80" fill="#111"/>
<circle cx="136.30" cy="926.00" r="4.80" fill="#111"/>
<circle cx="148.80" cy="924.30" r="4.80" fill="#111"/>
<circle cx="162.70" cy="920.70" r="4.80" fill="#111"/>
<circle cx="177.00" cy="919.00" r="4.80" fill="#111"/>
<circle cx="218.00" cy="922.40" r="4.80" fill="#111"/>
<circle cx="230.20" cy="926.30" r="4.80" fill="#111"/>
<circle cx="244.40" cy="922.70" r="4.80" fill="#111"/>
<circle cx="271.10" cy="931.20" r="4.80" fill="#111"/>
<circle cx="312.00" cy="928.10" r="4.80" fill="#111"/>
<circle cx="122.00" cy="921.00" r="4.20" fill="#fff" stroke="#333" stroke-width="1.2"/>
<circle cx="136.30" cy="919.40" r="4.20" fill="#fff" stroke="#333" stroke-width="1.2"/>
<circle cx="148.80" cy="916.50" r="4.20" fill="#fff" stroke="#333" stroke-width="1.2"/>
<circle cx="162.70" cy="913.30" r="4.20" fill="#fff" stroke="#333" stroke-width="1.2"/>
<circle cx="177.00" cy="909.80" r="4.20" fill="#fff" stroke="#333" stroke-width="1.2"/>
<circle cx="218.00" cy="906.50" r="4.20" fill="#fff" stroke="#333" stroke-width="1.2"/>
<circle cx="230.20" cy="912.30" r="4.20" fill="#fff" stroke="#333" stroke-width="1.2"/>
<circle cx="244.40" cy="902.70" r="4.20" fill="#fff" stroke="#333" stroke-width="1.2"/>
<circle cx="271.10" cy="908.10" r="4.20" fill="#fff" stroke="#333" stroke-width="1.2"/>
<circle cx="312.00" cy="903.00" r="4.20" fill="#fff" stroke="#333" stroke-width="1.2"/>
<polygon points="117.72,919.19 125.28,919.19 121.50,926.18" fill="#fff" stroke="#333" stroke-width="1.2"/>
<polygon points="131.72,913.39 139.28,913.39 135.50,920.38" fill="#fff" stroke="#333" stroke-width="1.2"/>
<polygon points="144.52,908.29 152.08,908.29 148.30,915.28" fill="#fff" stroke="#333" stroke-width="1.2"/>
<polygon points="158.52,903.49 166.08,903.49 162.30,910.48" fill="#fff" stroke="#333" stroke-width="1.2"/>
<polygon points="172.72,897.39 180.28,897.39 176.50,904.38" fill="#fff" stroke="#333" stroke-width="1.2"/>
<polygon points="213.02,881.39 220.58,881.39 216.80,888.38" fill="#fff" stroke="#333" stroke-width="1.2"/>
<polygon points="225.72,870.59 233.28,870.59 229.50,877.58" fill="#fff" stroke="#333" stroke-width="1.2"/>
<polygon points="239.52,857.19 247.08,857.19 243.30,864.18" fill="#fff" stroke="#333" stroke-width="1.2"/>
<polygon points="265.72,815.69 273.28,815.69 269.50,822.68" fill="#fff" stroke="#333" stroke-width="1.2"/>
<polygon points="307.42,770.59 314.98,770.59 311.20,777.58" fill="#fff" stroke="#333" stroke-width="1.2"/>
<circle cx="349.60" cy="289.30" r="3.15" fill="#fff" stroke="#111" stroke-width="1.2"/>
<rect x="346.65" y="312.65" width="6.30" height="6.30" fill="#fff" stroke="#111" stroke-width="1.2"/>
<rect x="346.05" y="337.45" width="7.50" height="7.50" fill="#111"/>
<polygon points="346.80,469.27 353.33,472.80 346.80,476.33" fill="#fff" stroke="#111" stroke-width="1.2"/>
<polygon points="349.50,498.24 354.16,502.90 349.50,507.56 344.84,502.90" fill="#fff" stroke="#111" stroke-width="1.2"/>
<polygon points="349.80,526.02 353.58,533.01 346.02,533.01" fill="#fff" stroke="#111" stroke-width="1.2" stroke-linejoin="miter"/>
<polygon points="350.00,554.20 354.80,559.00 350.00,563.80 345.20,559.00" fill="#111"/>
<polygon points="349.80,601.30 354.30,609.62 345.30,609.62" fill="#111"/>
<polygon points="351.20,797.47 357.73,801.00 351.20,804.53" fill="#fff" stroke="#111" stroke-width="1.2"/>
<polygon points="350.52,829.29 358.08,829.29 354.30,836.28" fill="#fff" stroke="#111" stroke-width="1.2"/>
<circle cx="354.50" cy="864.50" r="4.40" fill="#fff" stroke="#111" stroke-width="1.2"/>
<circle cx="354.50" cy="898.80" r="5.00" fill="#111"/>
<line x1="113.8" y1="137.5" x2="113.8" y2="160.3" stroke="#000" stroke-width="1.5"/><line x1="116.4" y1="137.5" x2="116.4" y2="160.3" stroke="#000" stroke-width="1.5"/><polygon points="109.6,159.3 120.8,159.3 116.4,174 115.10,165.47 113.8,174" fill="#000"/>
<line x1="325.2" y1="136.9" x2="325.2" y2="159.6" stroke="#000" stroke-width="1.5"/><line x1="328.3" y1="136.9" x2="328.3" y2="159.6" stroke="#000" stroke-width="1.5"/><polygon points="322.3,158.6 332.6,158.6 328.3,172.2 326.75,164.31 325.2,172.2" fill="#000"/>
<line x1="112.6" y1="319.3" x2="112.6" y2="341.8" stroke="#000" stroke-width="1.5"/><line x1="118.4" y1="319.3" x2="118.4" y2="341.8" stroke="#000" stroke-width="1.5"/><polygon points="110.0,340.8 122.2,340.8 118.4,354.8 115.50,346.68 112.6,354.8" fill="#000"/>
<line x1="137.6" y1="567.9" x2="137.6" y2="590.7" stroke="#000" stroke-width="1.5"/><line x1="140.5" y1="567.9" x2="140.5" y2="590.7" stroke="#000" stroke-width="1.5"/><polygon points="134.9,589.7 144.7,589.7 140.5,603.3 139.05,595.41 137.6,603.3" fill="#000"/>
<line x1="121.1" y1="863.8" x2="121.1" y2="886.1" stroke="#000" stroke-width="1.5"/><line x1="125.5" y1="863.8" x2="125.5" y2="886.1" stroke="#000" stroke-width="1.5"/><polygon points="118.3,885.1 130.1,885.1 125.5,898.8 123.30,890.85 121.1,898.8" fill="#000"/>
</svg></body></html>
